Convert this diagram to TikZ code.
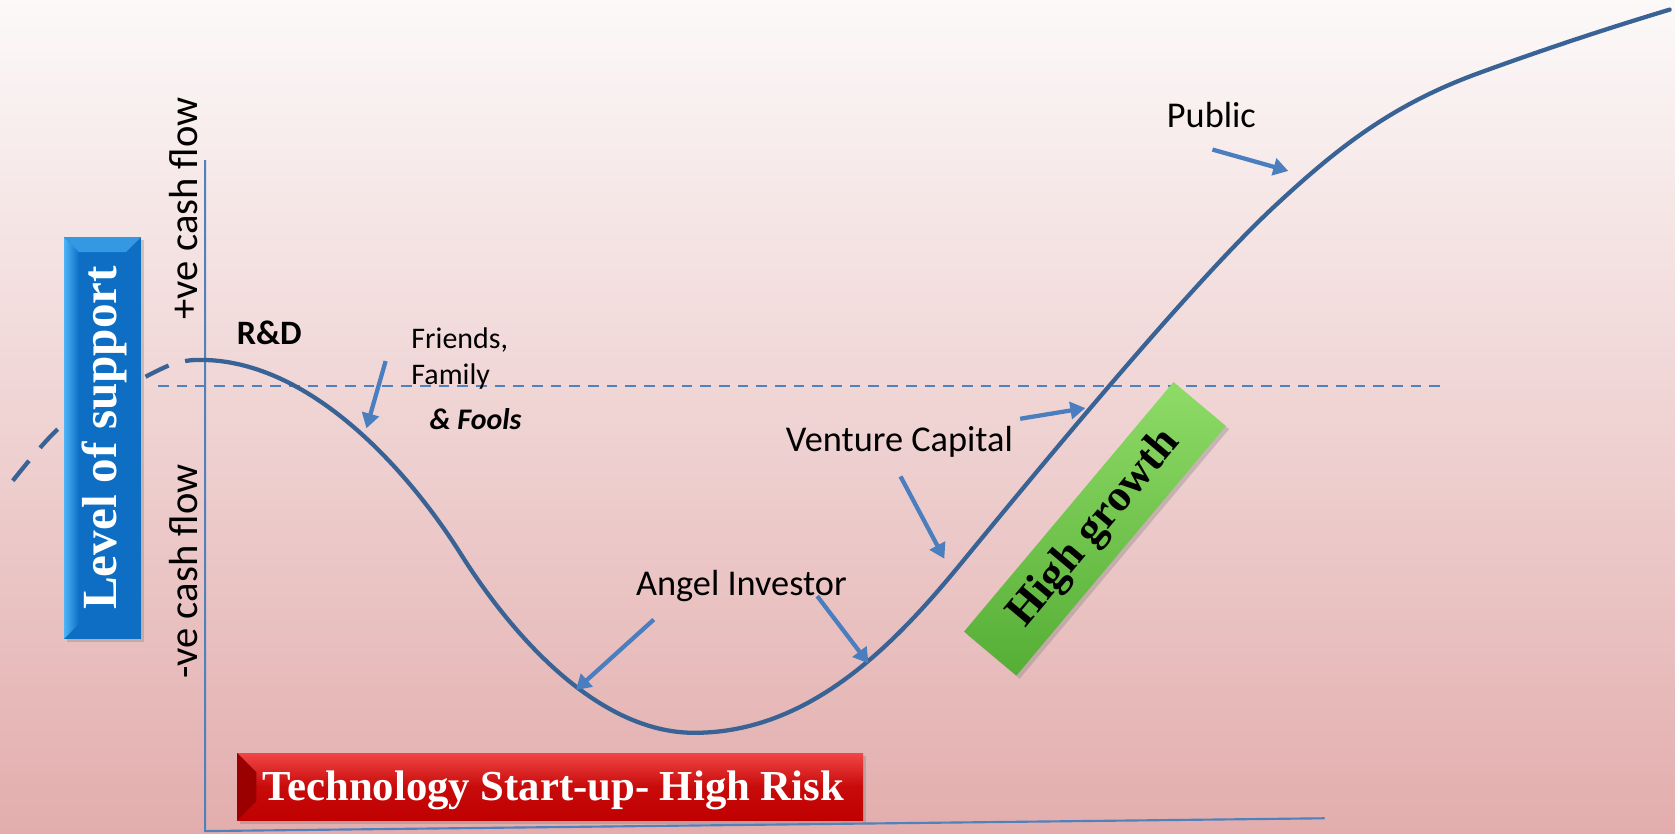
\documentclass[tikz,border=0pt]{standalone}
\usepackage{fontspec}
\setmainfont{Liberation Serif}
\newfontfamily\calfont{Carlito}
\usetikzlibrary{arrows.meta,shadows,calc}
\definecolor{axisblue}{HTML}{4F81BD}
\definecolor{curveblue}{HTML}{3A6395}
\definecolor{arrblue}{HTML}{4A7EBE}
\definecolor{bgtop}{HTML}{FCF9F9}
\definecolor{bgbot}{HTML}{E3ADAD}
\definecolor{boxblue}{HTML}{0D6EC3}
\definecolor{boxbluelt}{HTML}{4DB4F7}
\definecolor{boxred}{HTML}{C00000}
\definecolor{boxredlt}{HTML}{F24545}
\definecolor{boxgreen}{HTML}{55AE35}
\definecolor{boxgreenlt}{HTML}{8FDB68}
\tikzset{
  lbl/.style={font=\calfont\fontsize{34}{38}\selectfont, text=black, inner sep=0pt},
  small/.style={font=\calfont\fontsize{28}{32}\selectfont, text=black, inner sep=0pt},
  cash/.style={font=\calfont\fontsize{38}{42}\selectfont, text=black, inner sep=0pt, rotate=90},
  pointer/.style={draw=arrblue, line width=4pt, -{Triangle[width=16pt,length=14pt]}},
  curve/.style={draw=curveblue, line width=4pt, line cap=round},
  axis/.style={draw=axisblue, line width=2pt},
}
\begin{document}
\begin{tikzpicture}[x=1pt,y=-1pt]
\shade[top color=bgtop, bottom color=bgbot] (0,0) rectangle (1568,780);
\useasboundingbox (0,0) rectangle (1568,780);

% axes
\coordinate (ytop) at (192,150);
\coordinate (orig) at (192,778);
\coordinate (xend) at (1240,766);
\draw[axis] (ytop) -- (orig) -- (xend);

% zero cash-flow line
\coordinate (zl) at (148,361);
\coordinate (zr) at (1348,361);
\draw[axisblue, line width=2pt, dash pattern=on 10pt off 7.5pt] (zl) -- (zr);

% dashed start of curve
\draw[curve, line cap=butt, dash pattern=on 24pt off 16pt] plot[smooth, tension=0.6] coordinates {(12,450) (56,400) (103,371) (156,343) (182,337)};

% main curve
\coordinate (c0) at (182,337);
\coordinate (c1) at (431,518);
\coordinate (c2) at (650,686);
\coordinate (c3) at (900,527);
\coordinate (c4) at (1190,196);
\coordinate (c5) at (1380,70);
\coordinate (c6) at (1563,9);
\draw[curve] (c0) .. controls (290,333) and (385,445) .. (c1)
  .. controls (480,596) and (560,686) .. (c2)
  .. controls (760,686) and (840,600) .. (c3)
  .. controls (1000,405) and (1120,262) .. (c4)
  .. controls (1250,140) and (1300,100) .. (c5)
  .. controls (1440,48) and (1500,28) .. (c6);

% blue box
\fill[boxblue, drop shadow={shadow xshift=3pt, shadow yshift=-3pt, opacity=0.35}] (60,222) rectangle (132,598);
\shade[left color=boxbluelt, right color=boxblue] (60,222) -- (74,236) -- (74,584) -- (60,598) -- cycle;
\fill[boxbluelt!60!boxblue] (60,222) -- (132,222) -- (118,236) -- (74,236) -- cycle;
\node[font=\bfseries\fontsize{46}{50}\selectfont, text=white, rotate=90, inner sep=0pt] (los) at (98,410) {Level of support};

% red box
\shade[top color=boxredlt, bottom color=boxred, middle color=boxred!85!boxredlt, drop shadow={shadow xshift=3pt, shadow yshift=-3pt, opacity=0.35}] (222,705) rectangle (808,768);
\fill[boxred!80!black] (222,705) -- (240,723) -- (240,750) -- (222,768) -- cycle;
\node[font=\bfseries\fontsize{40}{44}\selectfont, text=white, inner sep=0pt] (tsu) at (518,740) {Technology Start-up- High Risk};

% green box
\node[rotate=50, minimum width=305pt, minimum height=64pt, inner sep=0pt,
      top color=boxgreenlt, bottom color=boxgreen,
      drop shadow={shadow xshift=3pt, shadow yshift=-3pt, opacity=0.35},
      font=\bfseries\fontsize{42}{46}\selectfont, text=black] (hg) at (1025,495) {High growth};

% cash flow labels
\node[cash] (pcf) at (172,195) {+ve cash flow};
\node[cash] (ncf) at (172,535) {-ve cash flow};

% labels
\node[lbl, font=\calfont\bfseries\fontsize{32}{36}\selectfont] (rd) at (252,312) {R\&D};
\node[small, anchor=west] (fr) at (385,318) {Friends,};
\node[small, anchor=west] (fa) at (385,352) {Family};
\node[small, anchor=west, font=\calfont\bfseries\itshape\fontsize{28}{32}\selectfont] (fo) at (402,392) {\& Fools};
\node[lbl] (vc) at (842,414) {Venture Capital};
\node[lbl] (ai) at (694,549) {Angel Investor};
\node[lbl] (pub) at (1134,108) {Public};

% pointers
\coordinate (f1) at (361,338); \coordinate (f2) at (343,401);
\coordinate (a1) at (612,580); \coordinate (a2) at (539,646);
\coordinate (b1) at (765,558); \coordinate (b2) at (813,621);
\coordinate (v1) at (843,446); \coordinate (v2) at (884,523);
\coordinate (w1) at (955,392); \coordinate (w2) at (1016,382);
\coordinate (p1) at (1135,140); \coordinate (p2) at (1206,160);
\draw[pointer] (f1) -- (f2);
\draw[pointer] (a1) -- (a2);
\draw[pointer] (b1) -- (b2);
\draw[pointer] (v1) -- (v2);
\draw[pointer] (w1) -- (w2);
\draw[pointer] (p1) -- (p2);
\end{tikzpicture}
\end{document}
